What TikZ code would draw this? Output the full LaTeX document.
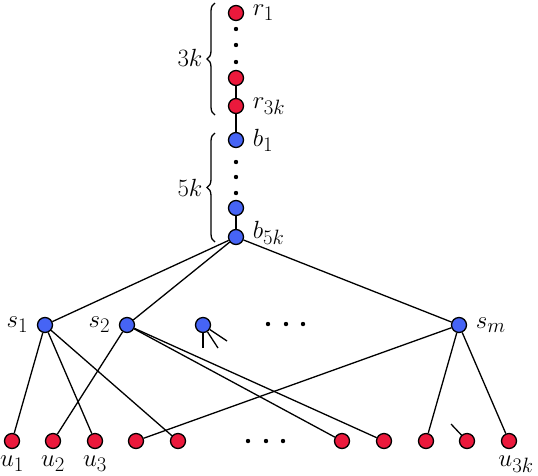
\documentclass[tikz,border=0pt]{standalone}
\usetikzlibrary{decorations.pathreplacing}
\definecolor{vred}{RGB}{235,25,60}
\definecolor{vblue}{RGB}{70,100,245}

\tikzset{
  rv/.style={circle,draw=black,fill=vred,minimum size=15pt,inner sep=0pt},
  bv/.style={circle,draw=black,fill=vblue,minimum size=15pt,inner sep=0pt},
  every label/.style={font=\Huge,inner sep=1pt},
  dotfill/.style={fill=black},
  bracedeco/.style={decorate,decoration={brace,amplitude=8pt}},
}

\begin{document}
\begin{tikzpicture}[x=1pt,y=1pt,yscale=-1,xscale=1,line width=1.3pt,label distance=7pt]
\useasboundingbox (0,0) rectangle (538,475);

%Vertices: r column
\node[rv,label=right:$r_1$] (r1) at (236,13) {};
\node[rv] (r2) at (236,78) {};
\node[rv,label=right:$r_{3k}$] (r3k) at (236,106) {};
%Vertices: b column
\node[bv,label=right:$b_1$] (b1) at (236,140) {};
\node[bv] (b2) at (236,208) {};
\node[bv,label={[yshift=4pt]right:$b_{5k}$}] (b5k) at (236,237) {};

%Vertices: s row
\node[bv,label=left:$s_1$] (s1) at (45,325) {};
\node[bv,label=left:$s_2$] (s2) at (127,325) {};
\node[bv] (s3) at (203,325) {};
\node[bv,label=right:$s_m$] (sm) at (459,325) {};

%Vertices: u row
\node[rv,label={[label distance=5pt]below:$u_1$}] (u1) at (12,441) {};
\node[rv,label={[label distance=5pt]below:$u_2$}] (u2) at (53,441) {};
\node[rv,label={[label distance=5pt]below:$u_3$}] (u3) at (95,441) {};
\node[rv] (u4) at (136,441) {};
\node[rv] (u5) at (178,441) {};
\node[rv] (u8) at (342,441) {};
\node[rv] (u9) at (384,441) {};
\node[rv] (u10) at (426,441) {};
\node[rv] (u11) at (467,441) {};
\node[rv,label={[label distance=5pt,xshift=7pt]below:$u_{3k}$}] (u12) at (509,441) {};

%Dots
\foreach \y in {29,45,62} \fill[dotfill] (236,\y) circle (2.2);
\foreach \y in {162,177,193} \fill[dotfill] (236,\y) circle (2.2);
\foreach \x in {268,286,303} \fill[dotfill] (\x,324) circle (2.2);
\foreach \x in {248,266,283} \fill[dotfill] (\x,441) circle (2.2);

%Braces
\draw[bracedeco] (215,115) -- (215,3);
\node[font=\Huge] (k3) at (190,58) {$3k$};
\draw[bracedeco] (215,242) -- (215,133);
\node[font=\Huge] (k5) at (190,188) {$5k$};

%Straight Lines
\draw (r2) -- (r3k);
\draw (r3k) -- (b1);
\draw (b2) -- (b5k);
\draw (b5k) -- (s1);
\draw (b5k) -- (s2);
\draw (b5k) -- (sm);
\draw (s1) -- (u1);
\draw (s1) -- (u3);
\draw (s1) -- (u5);
\draw (s2) -- (u2);
\draw (s2) -- (u8);
\draw (s2) -- (u9);
\draw (sm) -- (u4);
\draw (sm) -- (u10);
\draw (sm) -- (u12);

%Stubs
\coordinate (t1) at (203,348);
\coordinate (t2) at (218,348);
\coordinate (t3) at (227,341);
\coordinate (t4) at (451,424);
\draw (s3) -- (t1);
\draw (s3) -- (t2);
\draw (s3) -- (t3);
\draw (t4) -- (u11);

\end{tikzpicture}
\end{document}
